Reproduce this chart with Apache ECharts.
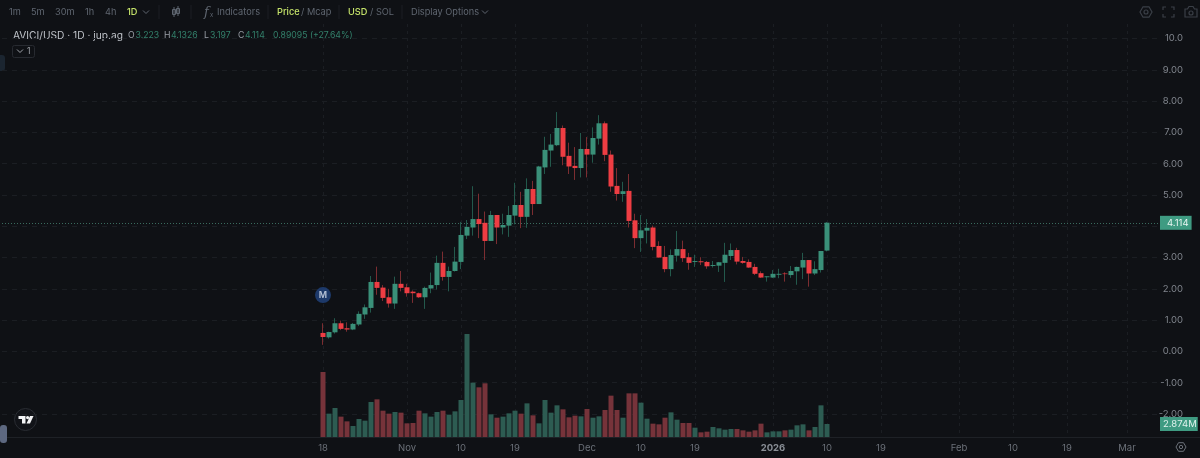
<!DOCTYPE html>
<html><head><meta charset="utf-8">
<style>html,body{margin:0;padding:0;background:#0f1115;overflow:hidden}#c{width:1200px;height:458px}</style>
<script src="https://cdn.jsdelivr.net/npm/echarts@6/dist/echarts.min.js"></script>
</head><body><div id="c"></div>
<script>
const firstDate = '2025-08-26';
const bandCount = 193;
const tickLabels = {
  '2025-10-18':'18','2025-11-01':'Nov','2025-11-10':'10','2025-11-19':'19',
  '2025-12-01':'Dec','2025-12-10':'10','2025-12-19':'19','2026-01-01':'2026',
  '2026-01-10':'10','2026-01-19':'19','2026-02-01':'Feb','2026-02-10':'10',
  '2026-02-19':'19','2026-03-01':'Mar'
};
const candleStart = '2025-10-18';
const opens = [0.59,0.45,0.61,0.90,0.74,0.70,0.86,1.18,1.39,2.22,2.04,1.73,1.53,2.16,2.05,1.91,1.86,1.73,2.01,2.12,2.83,2.38,2.57,2.86,3.70,3.96,4.23,4.11,3.53,4.36,3.96,4.02,4.34,4.68,4.30,5.19,4.71,5.88,6.42,6.59,7.14,6.25,5.93,5.86,6.47,6.29,6.80,7.29,6.29,5.29,5.03,5.13,4.19,3.62,3.86,3.96,3.37,3.02,2.63,3.06,3.27,3.01,2.86,2.88,2.86,2.73,2.74,2.83,3.05,3.24,2.89,2.86,2.70,2.50,2.37,2.36,2.45,2.49,2.44,2.56,2.68,2.92,2.49,2.60,3.223];
const highs = [0.90,0.63,1.06,0.985,0.93,0.91,1.28,1.50,2.41,2.71,2.12,2.00,2.39,2.57,2.16,1.95,1.88,2.07,2.52,3.06,3.19,2.71,3.34,4.14,4.20,5.28,5.04,4.47,4.49,4.36,4.40,4.65,5.39,5.10,5.53,5.45,5.93,6.86,6.95,7.65,7.22,6.67,6.53,6.98,6.85,7.16,7.55,7.35,6.42,5.86,5.42,5.67,4.40,4.36,4.23,4.02,3.52,3.37,3.26,3.85,3.54,3.15,3.09,3.01,2.89,2.89,2.86,3.47,3.45,3.31,3.02,2.94,2.80,2.56,2.40,2.60,2.64,2.53,2.73,2.71,3.15,2.92,2.88,3.21,4.1326];
const lows = [0.21,0.41,0.57,0.68,0.63,0.68,0.81,1.04,1.24,1.81,1.61,1.40,1.36,1.92,1.75,1.55,1.71,1.36,1.86,1.98,2.26,1.92,2.55,2.63,3.59,3.70,3.62,2.92,3.53,3.43,3.74,3.66,4.06,3.94,3.95,4.36,4.71,5.67,5.90,6.56,5.95,5.67,5.48,5.56,5.56,6.03,6.61,6.08,5.10,4.82,4.78,3.96,3.30,3.18,3.45,3.23,3.00,2.53,2.40,2.87,2.86,2.61,2.70,2.76,2.64,2.68,2.54,2.22,2.92,2.78,2.80,2.67,2.44,2.35,2.23,2.35,2.34,2.23,2.35,2.13,2.31,2.07,2.44,2.52,3.197];
const closes = [0.46,0.62,0.90,0.72,0.70,0.88,1.20,1.41,2.22,2.03,1.71,1.53,2.16,2.03,1.86,1.86,1.73,2.03,2.12,2.83,2.38,2.57,2.87,3.72,3.98,4.23,4.07,3.53,4.36,3.96,4.04,4.36,4.68,4.30,5.19,4.71,5.91,6.44,6.61,7.14,6.22,5.91,5.86,6.47,6.29,6.82,7.29,6.28,5.27,5.03,5.12,4.17,3.62,3.87,3.95,3.34,3.00,2.63,3.08,3.27,2.98,2.83,2.89,2.85,2.72,2.76,2.85,3.09,3.24,2.87,2.83,2.68,2.48,2.36,2.40,2.48,2.48,2.47,2.57,2.70,2.92,2.49,2.63,3.21,4.114];
const volumes = [14.37,5.16,6.41,4.50,3.46,2.43,3.98,3.61,7.74,8.33,5.82,5.16,5.53,5.38,3.02,3.10,5.82,5.23,4.50,5.53,5.82,4.94,5.67,8.18,22.77,12.01,10.98,11.87,5.01,4.27,4.50,5.23,5.82,5.16,7.44,4.79,3.02,8.18,5.38,7.00,6.12,4.35,4.72,4.57,6.19,4.27,4.57,5.97,9.14,5.97,4.27,9.65,9.65,7.59,4.05,2.95,2.80,4.27,5.45,3.83,3.10,3.10,2.06,1.03,1.18,2.21,1.92,1.62,1.77,1.77,1.47,1.18,1.47,2.95,1.03,1.25,1.25,1.47,1.62,2.58,2.80,1.47,2.21,7.00,2.874];
const yTicks = {10:'10.0',9:'9.00',8:'8.00',7:'7.00',6:'6.00',5:'5.00',4:'4.00',3:'3.00',2:'2.00',1:'1.00',0:'0.00','-1':'-1.00','-2':'-2.00'};
const lastPrice = 4.114, lastVolume = 2.874, markerPrice = 1.80;

const GREEN='#3a9079', RED='#ee3d43', GREEN_W='#23594c', RED_W='#7c2d31', GREEN_V='#2d5c52', RED_V='#76333a';
const FONT='Inter, "Noto Sans", sans-serif';
const GRID='#1b1e23', MUTED='#5f6670', LIME='#c5e36a';

const categories=[];
{const d=new Date(firstDate+'T00:00:00Z');for(let i=0;i<bandCount;i++){categories.push(d.toISOString().slice(0,10));d.setUTCDate(d.getUTCDate()+1);}}
const offset=categories.indexOf(candleStart);
const pad=a=>{const r=new Array(bandCount).fill('-');a.forEach((v,i)=>r[offset+i]=v);return r;};
const up=opens.map((o,i)=>closes[i]>=o);
const wickData=pad(opens.map((o,i)=>[o,closes[i],lows[i],highs[i]]));
const bodyData=pad(opens.map((o,i)=>[o,closes[i],Math.min(o,closes[i]),Math.max(o,closes[i])]));
const volData=pad(volumes.map((v,i)=>({value:v,itemStyle:{color:up[i]?GREEN_V:RED_V}})));
const tickFn=(i)=>tickLabels[categories[i]]!==undefined;

const BAR='400 9.2px '+FONT, LEG='400 8.7px '+FONT;
const T=(x,y,text,o={})=>({type:'text',x,y,silent:true,style:Object.assign({text,fill:MUTED,font:BAR,textVerticalAlign:'middle'},o)});
const L=(x1,y1,x2,y2,c='#1c1f24',w=1)=>({type:'line',silent:true,shape:{x1,y1,x2,y2},style:{stroke:c,lineWidth:w}});
const P=(points,c,w=1.2)=>({type:'polyline',silent:true,shape:{points},style:{stroke:c,fill:'none',lineWidth:w}});
const chev=(x,y,c=MUTED)=>P([[x-3,y-1.5],[x,y+1.5],[x+3,y-1.5]],c,1);
const IC='#3a3f47';
const LOGO='#f2f3f5';
const graphics=[
  T(9,12,'1m'),T(31,12,'5m'),T(55,12,'30m'),T(85,12,'1h'),T(105,12,'4h'),
  T(127,12,'1D',{fill:LIME,font:'500 9.2px '+FONT}),chev(146,12),
  L(159,5,159,19),L(191,5,191,19),L(268,5,268,19),L(339,5,339,19),L(402,5,402,19),
  {type:'rect',silent:true,shape:{x:172.5,y:9.5,width:3,height:5},style:{stroke:MUTED,fill:'none'}},
  {type:'rect',silent:true,shape:{x:176.5,y:8.5,width:3,height:5},style:{stroke:MUTED,fill:'none'}},
  L(174,7,174,17,MUTED),L(178,6,178,16,MUTED),
  T(204,13,'f',{font:'italic 400 13px "DejaVu Serif",serif'}),T(210,15.5,'x',{font:'400 6px '+FONT}),
  T(217,12,'Indicators'),
  T(277,12,'Price',{fill:LIME,font:'500 9.2px '+FONT}),T(301,12,'/ Mcap'),
  T(348,12,'USD',{fill:LIME,font:'500 9.2px '+FONT}),T(370,12,'/ SOL'),
  T(411,12,'Display Options'),chev(485,12),
  T(13,35.5,'AVICI/USD · 1D · jup.ag',{fill:'#bfc3c9',font:'400 10.2px '+FONT}),
  T(128,35.5,'O',{fill:'#9a9fa7',font:LEG}),T(135.5,35.5,'3.223',{fill:'#33806b',font:LEG}),
  T(164,35.5,'H',{fill:'#9a9fa7',font:LEG}),T(171,35.5,'4.1326',{fill:'#33806b',font:LEG}),
  T(204,35.5,'L',{fill:'#9a9fa7',font:LEG}),T(210,35.5,'3.197',{fill:'#33806b',font:LEG}),
  T(238,35.5,'C',{fill:'#9a9fa7',font:LEG}),T(245,35.5,'4.114',{fill:'#33806b',font:LEG}),
  T(273,35.5,'0.89095 (+27.64%)',{fill:'#33806b',font:LEG}),
  {type:'rect',silent:true,shape:{x:12.5,y:45.5,width:22,height:12,r:2},style:{stroke:'#272a30',fill:'none'}},
  chev(20,51,'#a0a4aa'),T(27,51.5,'1',{fill:'#a0a4aa',font:'400 8.5px '+FONT}),
  {type:'rect',silent:true,shape:{x:-4,y:55,width:9,height:16,r:3},style:{fill:'#1b2530'}},
  // right icons
  {type:'polygon',silent:true,shape:{points:[[1140,12],[1143,6.8],[1149,6.8],[1152,12],[1149,17.2],[1143,17.2]]},style:{stroke:IC,fill:'none',lineWidth:1.2}},
  {type:'circle',silent:true,shape:{cx:1146,cy:12,r:2},style:{stroke:IC,fill:'none',lineWidth:1.2}},
  P([[1163,10],[1163,7],[1166,7]],IC),P([[1171,7],[1174,7],[1174,10]],IC),P([[1174,14],[1174,17],[1171,17]],IC),P([[1166,17],[1163,17],[1163,14]],IC),
  {type:'polygon',silent:true,shape:{points:[[1185,9],[1187.5,9],[1189,6.5],[1193,6.5],[1194.5,9],[1197,9],[1197,17],[1185,17]]},style:{stroke:IC,fill:'none',lineWidth:1.2}},
  {type:'circle',silent:true,shape:{cx:1191,cy:13,r:2},style:{stroke:IC,fill:'none',lineWidth:1.2}},
  {type:'polygon',silent:true,shape:{points:[[1176,447],[1178.5,442.7],[1183.5,442.7],[1186,447],[1183.5,451.3],[1178.5,451.3]]},style:{stroke:'#6c7179',fill:'none',lineWidth:1}},
  {type:'circle',silent:true,shape:{cx:1181,cy:447,r:1.7},style:{stroke:'#6c7179',fill:'none',lineWidth:1}},
  // TV logo and slider
  {type:'circle',silent:true,shape:{cx:25.5,cy:419.5,r:11},style:{fill:'#111318',stroke:'#2a2d33'}},
  {type:'polygon',silent:true,shape:{points:[[18.5,416],[25.5,416],[25.5,423.5],[22,423.5],[22,419],[18.5,419]]},style:{fill:LOGO}},
  {type:'circle',silent:true,shape:{cx:27.6,cy:417.6,r:1.6},style:{fill:LOGO}},
  {type:'polygon',silent:true,shape:{points:[[30,416],[33.5,416],[30,423.5],[26.5,423.5]]},style:{fill:LOGO}},
  L(0,437.5,1200,437.5,'#1e2126'),
  {type:'rect',silent:true,shape:{x:0,y:425,width:7,height:18,r:3},style:{fill:'#5d6880'}}
];

const chart=echarts.init(document.getElementById('c'),null,{renderer:'canvas'});
chart.setOption({
  animation:false,backgroundColor:'#0f1115',
  grid:[
    {left:2,right:40,top:38.5,bottom:44},
    {left:2,right:40,top:24,bottom:21}
  ],
  xAxis:[
    {type:'category',gridIndex:0,data:categories,show:false,boundaryGap:true},
    {type:'category',gridIndex:1,data:categories,boundaryGap:true,
     axisLine:{show:false},axisTick:{show:false},
     axisLabel:{interval:tickFn,margin:6,color:'#6b7078',fontFamily:FONT,fontSize:9.5,hideOverlap:false,
       formatter:v=>tickLabels[v]==='2026'?'{b|2026}':(tickLabels[v]||''),
       rich:{b:{fontWeight:700,color:'#8a8f96',fontFamily:FONT,fontSize:9.5}}},
     splitLine:{show:true,interval:tickFn,alignWithLabel:true,lineStyle:{color:GRID,type:[3,4],width:1}}}
  ],
  yAxis:[
    {type:'value',gridIndex:0,min:-2,max:10,interval:1,position:'right',
     axisLine:{show:false},axisTick:{show:false},
     axisLabel:{align:'right',margin:23,color:'#80858d',fontFamily:FONT,fontSize:9.5,padding:[2,0,0,0],formatter:v=>yTicks[v]},
     splitLine:{show:true,lineStyle:{color:GRID,type:[5,5],width:1}}},
    {type:'value',gridIndex:1,min:0,max:91.3,show:false,splitLine:{show:false}}
  ],
  series:[
    {name:'Volume',type:'bar',xAxisIndex:1,yAxisIndex:1,data:volData,barWidth:5,z:1,silent:true,
     markLine:{silent:true,symbol:'none',animation:false,lineStyle:{color:'rgba(0,0,0,0)'},
       data:[{yAxis:lastVolume,label:{show:true,position:'end',formatter:'2.874M',backgroundColor:'#3f9b82',color:'#dff1ec',fontFamily:FONT,fontSize:9.5,padding:[2,1,2,3],distance:0}}]}},
    {name:'Wick',type:'candlestick',xAxisIndex:0,yAxisIndex:0,data:wickData,barWidth:1,z:3,silent:true,
     itemStyle:{color:GREEN_W,color0:RED_W,borderColor:GREEN_W,borderColor0:RED_W,borderWidth:1}},
    {name:'Body',type:'candlestick',xAxisIndex:0,yAxisIndex:0,data:bodyData,barWidth:5,z:4,silent:true,
     itemStyle:{color:GREEN,color0:RED,borderColor:GREEN,borderColor0:RED,borderWidth:0},
     markLine:{silent:true,symbol:'none',animation:false,z:2,lineStyle:{color:'#3a6b5e',type:[1,2],width:1},
       data:[{yAxis:lastPrice,label:{show:true,position:'end',formatter:'4.114',backgroundColor:'#3f9b82',color:'#eaf6f2',fontFamily:FONT,fontSize:9.5,padding:[2,3,2,7],distance:0}}]}},
    {name:'Marker',type:'scatter',xAxisIndex:0,yAxisIndex:0,z:5,silent:true,symbol:'circle',symbolSize:16,
     data:[[candleStart,markerPrice]],
     itemStyle:{color:'#21437f'},
     label:{show:true,position:'inside',formatter:'M',color:'#dfe6f2',fontFamily:FONT,fontSize:9,fontWeight:600}}
  ],
  graphic:{elements:graphics}
});
</script></body></html>
